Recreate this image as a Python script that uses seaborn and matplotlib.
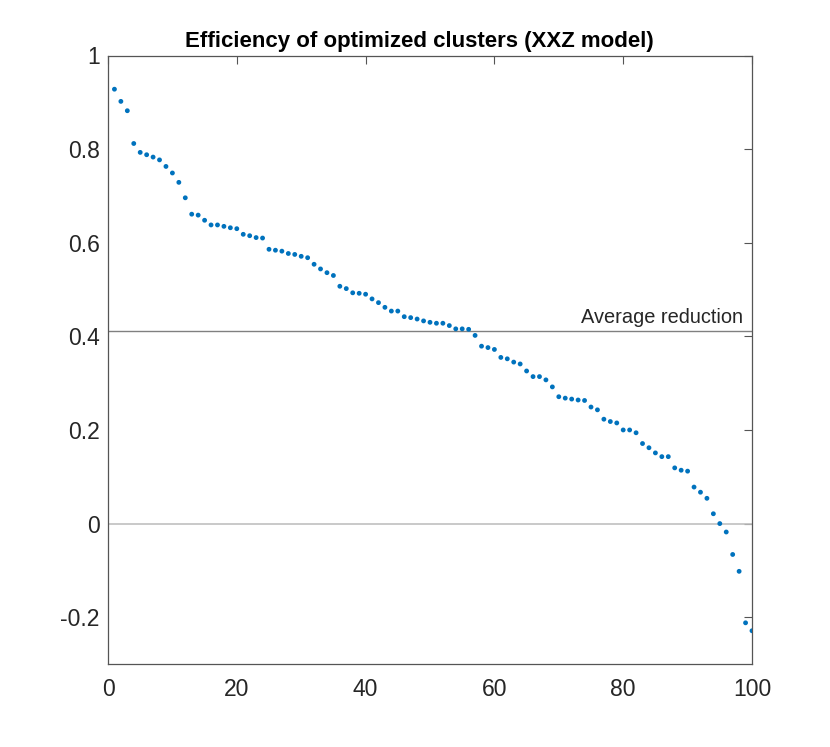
import numpy as np
import pandas as pd
import matplotlib
matplotlib.use('Agg')
import matplotlib.pyplot as plt
import seaborn as sns

# ── Data ──────────────────────────────────────────────────────────────────────
cluster_idx = list(range(1, 101))
efficiency = [
    0.928, 0.902, 0.882, 0.812, 0.793, 0.788, 0.783, 0.777, 0.763, 0.749,
    0.729, 0.696, 0.661, 0.659, 0.648, 0.638, 0.638, 0.635, 0.632, 0.630,
    0.618, 0.615, 0.611, 0.610, 0.586, 0.584, 0.582, 0.577, 0.575, 0.571,
    0.568, 0.554, 0.544, 0.536, 0.530, 0.507, 0.502, 0.493, 0.492, 0.490,
    0.480, 0.472, 0.462, 0.454, 0.454, 0.442, 0.440, 0.437, 0.433, 0.430,
    0.428, 0.428, 0.423, 0.416, 0.416, 0.415, 0.402, 0.379, 0.376, 0.372,
    0.355, 0.352, 0.345, 0.341, 0.326, 0.314, 0.314, 0.307, 0.292, 0.271,
    0.268, 0.266, 0.264, 0.263, 0.249, 0.243, 0.223, 0.218, 0.215, 0.200,
    0.200, 0.194, 0.171, 0.162, 0.151, 0.143, 0.143, 0.119, 0.114, 0.112,
    0.078, 0.067, 0.054, 0.021, 0.000, -0.018, -0.066, -0.102, -0.212, -0.229,
]
avg_reduction = 0.411
x_ticks = [0, 20, 40, 60, 80, 100]
y_ticks = [-0.2, 0, 0.2, 0.4, 0.6, 0.8, 1]
y_ticklabels = ['-0.2', '0', '0.2', '0.4', '0.6', '0.8', '1']

df = pd.DataFrame({'cluster': cluster_idx, 'efficiency': efficiency})

# ── Style ─────────────────────────────────────────────────────────────────────
sns.set_style('white')
plt.rcParams['font.family'] = ['Liberation Sans', 'DejaVu Sans']

BLUE = '#0072BD'
AXIS = '#555555'
TEXT = '#262626'

fig = plt.figure(figsize=(8.3, 7.47), dpi=100)
ax = fig.add_axes([108 / 830, 1 - 664 / 747, (752 - 108) / 830, (664 - 55.5) / 747])

ax.axhline(0, color='#c0c0c0', linewidth=1.2, zorder=1)
ax.axhline(avg_reduction, color='#808080', linewidth=1.0, zorder=1)
ax.text(98.6, avg_reduction + 0.008, 'Average reduction', ha='right', va='bottom',
        fontsize=14.4, color=TEXT)

sns.scatterplot(data=df, x='cluster', y='efficiency', ax=ax, color=BLUE,
                s=12, edgecolor='none', zorder=3)

ax.set_xlim(0, 100)
ax.set_ylim(-0.3, 1)
ax.set_xticks(x_ticks)
ax.set_yticks(y_ticks)
ax.set_yticklabels(y_ticklabels)
ax.set_xlabel('')
ax.set_ylabel('')
ax.tick_params(direction='in', length=6, width=0.8, color=AXIS, labelcolor=TEXT,
               labelsize=16.5, top=True, right=True)
ax.tick_params(axis='x', pad=10)
ax.tick_params(axis='y', pad=6)
for sp in ax.spines.values():
    sp.set_color(AXIS)
    sp.set_linewidth(0.9)
    sp.set_visible(True)

ax.set_title('Efficiency of optimized clusters (XXZ model)', fontsize=16,
             fontweight='bold', color='black', pad=6, x=(419 - 108) / 644)

fig.savefig('out.png', dpi=100, facecolor='white')
